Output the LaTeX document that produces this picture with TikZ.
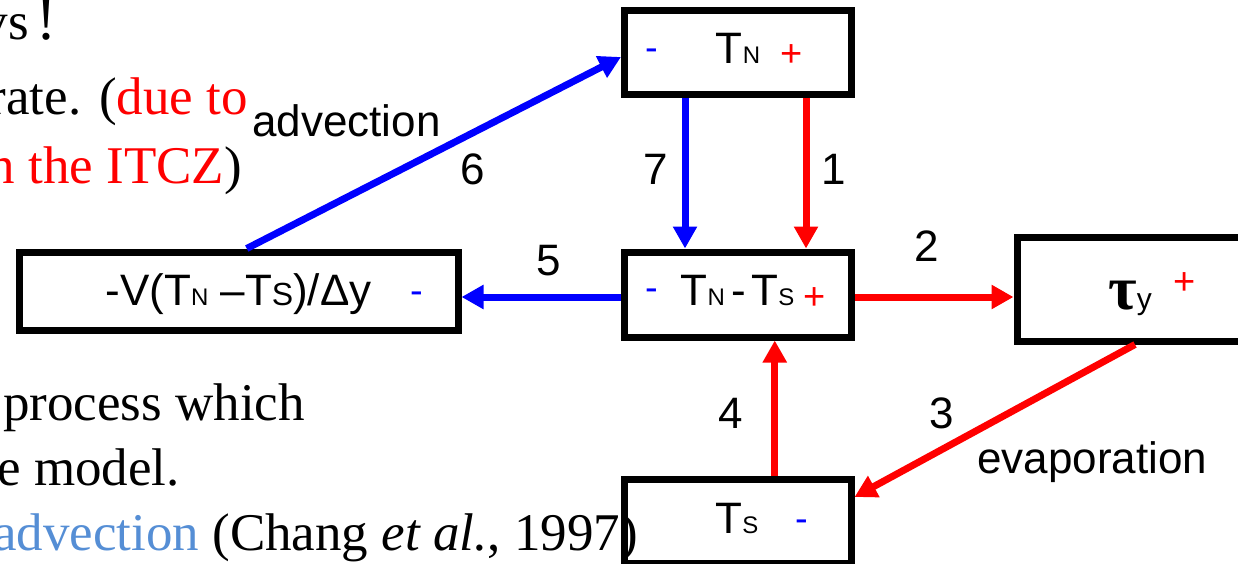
\documentclass[tikz,border=0pt]{standalone}
\usepackage{fontspec}
\setmainfont{Liberation Serif}
\setsansfont{Liberation Sans}
\usetikzlibrary{arrows.meta}
\definecolor{myblue}{RGB}{0,0,255}
\definecolor{myred}{RGB}{255,0,0}
\definecolor{citeblue}{RGB}{85,142,213}
\newcommand{\lblfont}{\sffamily\fontsize{44}{44}\selectfont}
\newcommand{\smallsub}[1]{{\fontsize{24}{24}\selectfont #1}}
\newcommand{\midsub}[1]{{\fontsize{32}{32}\selectfont #1}}
\newcommand{\bodyfont}{\rmfamily\fontsize{53}{56}\selectfont}
\newcommand{\signfont}{\sffamily\fontsize{38}{38}\selectfont}
\begin{document}
\begin{tikzpicture}[x=1pt,y=-1pt,
  box/.style={draw=black,line width=7pt,rectangle,inner sep=0pt},
  lab/.style={inner sep=0pt,font=\lblfont,anchor=base},
  body/.style={inner sep=0pt,font=\bodyfont,anchor=base east},
  plus/.style={inner sep=0pt,font=\signfont,text=myred},
  minus/.style={inner sep=0pt,font=\signfont,text=myblue},
  barrow/.style={draw=myblue,line width=7pt,-{Triangle[length=22pt,width=23pt]}},
  rarrow/.style={draw=myred,line width=7pt,-{Triangle[length=22pt,width=23pt]}}]
\useasboundingbox (0,0) rectangle (1238,564);

% background slide text
\node[body] (b1) at (57,40) {vs\hspace{8pt}{\fontsize{60}{60}\selectfont !}};
\node[body] (b2) at (248,115) {rate. (\textcolor{myred}{due to}};
\node[body] (b3) at (242,183) {\textcolor{myred}{n the ITCZ})};
\node[body] (b4) at (305,420) {process which};
\node[body] (b5) at (180,485) {e model.};

% boxes
\node[box,minimum width=226.5pt,minimum height=84pt] (TN) at (737.75,53) {};
\node[box,minimum width=226.5pt,minimum height=85pt] (TD) at (737.75,294.5) {};
\node[box,minimum width=233pt,minimum height=104pt] (TAU) at (1133.5,289) {};
\node[box,minimum width=226.5pt,minimum height=84pt] (TS) at (737.75,521) {};
\node[box,minimum width=438.5pt,minimum height=78pt] (ADV) at (238.75,291) {};

\node[body] (b6) at (638,550) {\textcolor{citeblue}{advection} (Chang \textit{et al.}, 1997)};

% box texts
\node[lab] (tTN) at (738,64) {T\smallsub{N}};
\node[minus] (mTN) at (652,55) {-};
\node[plus] (pTN) at (792,56) {+};

\node[lab] (tTD) at (737.5,305) {T\smallsub{N}\hspace{7pt}-\hspace{5pt}T\smallsub{S}};
\node[minus] (mTD) at (652,295) {-};
\node[plus] (pTD) at (815,299) {+};

\node[lab] (tTAU) at (1130,309) {{\rmfamily\bfseries\fontsize{62}{62}\selectfont τ}{\fontsize{30}{30}\selectfont y}};
\node[plus] (pTAU) at (1185,284) {+};

\node[lab] (tTS) at (737,533) {T\smallsub{S}};
\node[minus] (mTS) at (802,526) {-};

\node[lab] (tADV) at (238.5,305) {-V(T\smallsub{N} –T\midsub{S})/Δy};
\node[minus] (mADV) at (417,298) {-};

% connectors
\coordinate (p5) at ([yshift=-2.5pt]TD.west);
\coordinate (p2) at ([yshift=-2.5pt]TD.east);
\draw[barrow] ([xshift=8pt]ADV.north) -- ([yshift=-4pt]TN.west);
\draw[barrow] ([xshift=-52.75pt]TN.south) -- ([xshift=-52.75pt]TD.north);
\draw[rarrow] ([xshift=68.25pt]TN.south) -- ([xshift=68.25pt]TD.north);
\draw[barrow] (p5) -- (ADV.east |- p5);
\draw[rarrow] (p2) -- (TAU.west |- p2);
\draw[rarrow] ([xshift=1.5pt]TAU.south) -- ([yshift=24pt]TS.east);
\draw[rarrow] ([xshift=37pt]TS.north) -- ([xshift=37pt]TD.south);

% connector labels
\node[lab,anchor=base west] (ladv) at (252,137) {advection};
\node[lab] (l6) at (473,185) {6};
\node[lab] (l7) at (656,185) {7};
\node[lab] (l1) at (834,185) {1};
\node[lab] (l5) at (549,275) {5};
\node[lab] (l2) at (927,261) {2};
\node[lab] (l3) at (942,428) {3};
\node[lab] (l4) at (731,428) {4};
\node[lab,anchor=base west] (levap) at (977,473) {evaporation};
\end{tikzpicture}
\end{document}
